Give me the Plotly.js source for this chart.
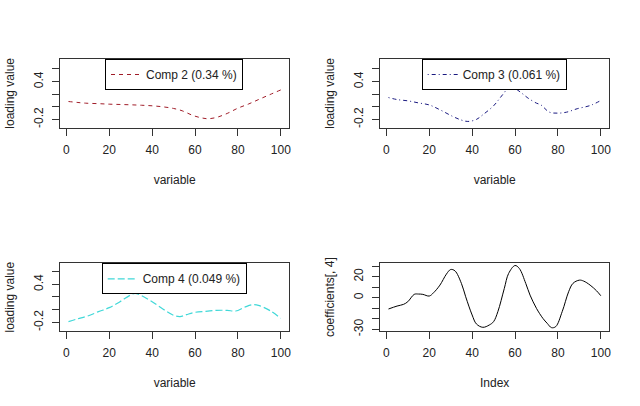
<!DOCTYPE html>
<html>
<head>
<meta charset="utf-8">
<script src="https://cdn.plot.ly/plotly-3.0.1.min.js"></script>
<style>html,body{margin:0;padding:0;background:#fff;}#chart{width:640px;height:406px;}</style>
</head>
<body>
<div id="chart"></div>
<script>
// ---- data ----
const comp2X = [1,5,9,15,20,25,30,35,40,45,50,54,59,63,66,70,75,80,85,90,95,100];
const comp2Y = [0.084,0.07,0.058,0.05,0.042,0.037,0.032,0.025,0.016,0.0,-0.026,-0.063,-0.137,-0.175,-0.189,-0.168,-0.105,-0.021,0.045,0.121,0.195,0.268];

const comp3X = [1,5,10,15,20,25,31,35,38,42,45,50,53,55,57,60,63,66,70,72,76,80,84,89,95,100];
const comp3Y = [0.147,0.115,0.095,0.062,0.03,-0.047,-0.153,-0.21,-0.232,-0.2,-0.126,0.016,0.14,0.226,0.31,0.29,0.22,0.14,0.058,0.032,-0.084,-0.1,-0.085,-0.03,0.02,0.1];

const comp4X = [1,5,10,15,20,25,30,32,35,40,45,50,53,56,60,65,70,75,79,83,87,90,95,100];
const comp4Y = [-0.189,-0.147,-0.1,-0.032,0.032,0.126,0.232,0.258,0.221,0.126,0.011,-0.089,-0.11,-0.079,-0.042,-0.026,-0.011,-0.011,-0.021,0.037,0.079,0.063,-0.016,-0.137];

const coefX = [1,5,8,10,13,15,17,20,22,25,28,30,32,35,37,40,42,45,48,50,52,55,57,60,62,65,67,70,73,75,77,79,82,85,87,90,92,95,98,100];
const coefY = [-10.7,-7.9,-6.3,-3.8,3.2,3.5,3.2,1.6,4.7,12,22.4,26.8,25.5,13.6,0.9,-16.4,-24.9,-28.1,-25.9,-22.7,-13.2,8.8,23,30.6,27.8,13.6,2.5,-10.1,-19.6,-24.3,-28.4,-27.4,-13.2,5.7,13.6,16.7,15.8,12,6.6,1.9];

const legendNames = ["Comp 2 (0.34 %)", "Comp 3 (0.061 %)", "Comp 4 (0.049 %)"];
const xTicks = [0,20,40,60,80,100];
const loadTicks = [-0.2,0,0.2,0.4,0.6];
const loadTickText = ["-0.2","","","0.4",""];
const coefTicks = [-30,-20,-10,0,10,20,30];
const coefTickText = ["-30","","","0","","20",""];

// ---- styling ----
const FONT = "Liberation Sans, Arial, sans-serif";
const TXT = "#222";
const LINE = "#333";

function xax(domain, anchor, title) {
  return {
    domain: domain, anchor: anchor, range: [-2.96, 103.96], tickvals: xTicks, ticktext: xTicks.map(String),
    showline: true, mirror: true, linecolor: LINE, linewidth: 1,
    ticks: "outside", ticklen: 7, tickcolor: LINE, tickwidth: 1,
    showgrid: false, zeroline: false, ticklabelstandoff: 4,
    tickfont: {family: FONT, size: 12, color: TXT},
    title: {text: title, font: {family: FONT, size: 12, color: TXT}, standoff: 19},
    automargin: false, fixedrange: true
  };
}
function yax(domain, anchor, range, vals, text, title) {
  return {
    domain: domain, anchor: anchor, range: range, tickvals: vals, ticktext: text, tickangle: -90,
    showline: true, mirror: true, linecolor: LINE, linewidth: 1,
    ticks: "outside", ticklen: 7, tickcolor: LINE, tickwidth: 1,
    showgrid: false, zeroline: false, ticklabelstandoff: 4,
    tickfont: {family: FONT, size: 12, color: TXT},
    title: {text: title, font: {family: FONT, size: 12, color: TXT}, standoff: 14},
    automargin: false, fixedrange: true
  };
}
function leg(x, y) {
  return {
    x: x, y: y, xanchor: "left", yanchor: "top", xref: "paper", yref: "paper",
    bgcolor: "#fff", bordercolor: "#000", borderwidth: 1,
    font: {family: FONT, size: 12, color: TXT}, itemwidth: 30
  };
}

const traces = [
  {x: comp2X, y: comp2Y, name: legendNames[0], type: "scatter", mode: "lines", xaxis: "x", yaxis: "y",
   line: {color: "#a01c28", width: 1, dash: "4px,4px", shape: "spline"}, legend: "legend"},
  {x: comp3X, y: comp3Y, name: legendNames[1], type: "scatter", mode: "lines", xaxis: "x2", yaxis: "y2",
   line: {color: "#1a1a80", width: 1, dash: "1px,3px,4px,3px", shape: "spline"}, legend: "legend2"},
  {x: comp4X, y: comp4Y, name: legendNames[2], type: "scatter", mode: "lines", xaxis: "x3", yaxis: "y3",
   line: {color: "#40d8d8", width: 1.2, dash: "7px,3px", shape: "spline"}, legend: "legend3"},
  {x: coefX, y: coefY, name: "coefficients[, 4]", type: "scatter", mode: "lines", xaxis: "x4", yaxis: "y4",
   line: {color: "#000", width: 1, shape: "spline"}, showlegend: false}
];

const W = 640, H = 406;
const dx1 = [60/W, 289.3/W], dx2 = [380/W, 609.3/W];
const dyTop = [(H-127.7)/H, (H-59)/H], dyBot = [(H-331)/H, (H-263.3)/H];

const layout = {
  width: W, height: H, margin: {l: 0, r: 0, t: 0, b: 0},
  paper_bgcolor: "#fff", plot_bgcolor: "#fff",
  font: {family: FONT, size: 12, color: TXT},
  xaxis: xax(dx1, "y", "variable"),
  yaxis: yax(dyTop, "x", [-0.331, 0.758], loadTicks, loadTickText, "loading value"),
  xaxis2: xax(dx2, "y2", "variable"),
  yaxis2: yax(dyTop, "x2", [-0.331, 0.758], loadTicks, loadTickText, "loading value"),
  xaxis3: xax(dx1, "y3", "variable"),
  yaxis3: yax(dyBot, "x3", [-0.337, 0.732], loadTicks, loadTickText, "loading value"),
  xaxis4: xax(dx2, "y4", "Index"),
  yaxis4: yax(dyBot, "x4", [-31.6, 32.7], coefTicks, coefTickText, "coefficients[, 4]"),
  legend: leg(105/W, (H-59)/H),
  legend2: leg(421.7/W, (H-59)/H),
  legend3: leg(101.7/W, (H-263.3)/H),
  showlegend: true
};

Plotly.newPlot("chart", traces, layout, {staticPlot: true, displayModeBar: false});
</script>
</body>
</html>
